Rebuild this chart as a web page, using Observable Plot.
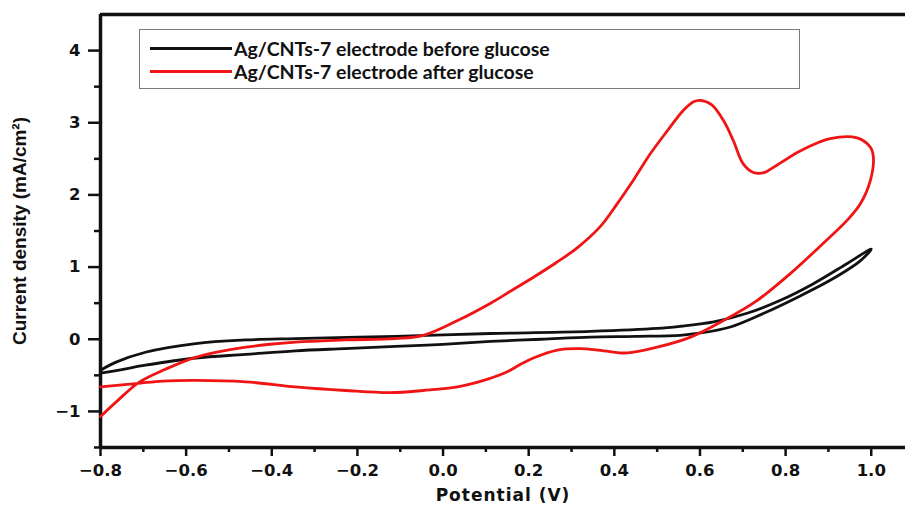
<!DOCTYPE html>
<html>
<head>
<meta charset="utf-8">
<script src="https://cdn.jsdelivr.net/npm/d3@7"></script>
<script src="https://cdn.jsdelivr.net/npm/@observablehq/plot@0.6"></script>
<style>
  html, body { margin: 0; padding: 0; background: #fff; }
  #wrap { position: relative; width: 905px; height: 511px; }
  #legend {
    position: absolute; left: 139px; top: 29px; width: 659px; height: 58px;
    border: 1.5px solid #7a7a7a; box-sizing: content-box;
    font-family: Lato, "Open Sans", sans-serif; font-weight: 700; font-size: 19.5px; color: #111;
  }
  .row { position: absolute; left: 10px; height: 22px; display: flex; align-items: center; }
  .sw { width: 82px; height: 0; border-top: 3px solid; margin-right: 2px; }
  #chart svg text {
    font-family: "DejaVu Sans", sans-serif; font-weight: 700; font-size: 16.5px;
  }
  #chart svg [aria-label="y-axis label"] text {
    font-family: "Liberation Sans Narrow", "Arial Narrow", "Liberation Sans", sans-serif; font-stretch: condensed;
    font-weight: 700; font-size: 19px; letter-spacing: 0;
  }
  #chart svg [aria-label="x-axis label"] text {
    font-family: "DejaVu Sans", sans-serif; font-weight: 700; font-size: 17px; letter-spacing: 1px;
  }
</style>
</head>
<body>
<div id="wrap">
  <div id="chart"></div>
  <div id="legend"></div>
</div>
<script>
// Series names
const seriesNames = ["Ag/CNTs-7 electrode before glucose", "Ag/CNTs-7 electrode after glucose"];
const seriesColors = ["#111111", "#f01414"];

// Black CV (before glucose): forward (lower) branch then reverse (upper) branch
const blackV = [-0.8, -0.75, -0.695, -0.578, -0.461, -0.345, -0.23, -0.111, 0.0, 0.111, 0.23, 0.344, 0.45, 0.554, 0.594, 0.671, 0.749, 0.827, 0.905, 0.975, 1.0,
                0.944, 0.865, 0.788, 0.71, 0.632, 0.554, 0.50, 0.344, 0.111, -0.111, -0.345, -0.461, -0.578, -0.695, -0.765, -0.8];
const blackI = [-0.47, -0.42, -0.36, -0.26, -0.21, -0.16, -0.13, -0.10, -0.07, -0.03, 0.0, 0.03, 0.04, 0.055, 0.08, 0.17, 0.36, 0.58, 0.82, 1.09, 1.25,
                1.05, 0.77, 0.54, 0.36, 0.24, 0.18, 0.15, 0.11, 0.08, 0.04, 0.01, -0.01, -0.06, -0.18, -0.32, -0.43];

// Red CV (after glucose)
const redV = [-0.8, -0.76, -0.711, -0.65, -0.578, -0.461, -0.345, -0.23, -0.111, -0.046, 0.034, 0.111, 0.164, 0.214, 0.264, 0.314, 0.367, 0.407, 0.444, 0.484, 0.524, 0.561, 0.585, 0.601,
              0.627, 0.655, 0.678, 0.701, 0.725, 0.75, 0.771, 0.834, 0.904, 0.967, 0.998, 1.005, 0.998, 0.975, 0.944, 0.888, 0.811, 0.734, 0.655, 0.578, 0.50, 0.43, 0.375, 0.32,
              0.267, 0.211, 0.18, 0.15, 0.095, 0.034, -0.046, -0.123, -0.228, -0.345, -0.461, -0.578, -0.655, -0.711, -0.8];
const redI = [-1.07, -0.85, -0.60, -0.42, -0.25, -0.11, -0.04, -0.01, 0.01, 0.055, 0.26, 0.50, 0.69, 0.87, 1.06, 1.27, 1.56, 1.88, 2.20, 2.57, 2.89, 3.17, 3.29, 3.31,
              3.25, 3.03, 2.75, 2.43, 2.31, 2.31, 2.38, 2.61, 2.78, 2.79, 2.66, 2.52, 2.20, 1.88, 1.65, 1.33, 0.91, 0.54, 0.26, 0.03, -0.11, -0.19, -0.16, -0.13,
              -0.15, -0.26, -0.35, -0.45, -0.57, -0.66, -0.71, -0.74, -0.71, -0.66, -0.59, -0.57, -0.58, -0.61, -0.66];

// Axis settings
const xDomain = [-0.8, 1.08];
const yDomain = [-1.5, 4.5];
const xMajor = [-0.8, -0.6, -0.4, -0.2, 0.0, 0.2, 0.4, 0.6, 0.8, 1.0];
const xMinor = [-0.7, -0.5, -0.3, -0.1, 0.1, 0.3, 0.5, 0.7, 0.9];
const yMajor = [-1, 0, 1, 2, 3, 4];
const yMinor = [-1.5, -0.5, 0.5, 1.5, 2.5, 3.5];

const black = blackV.map((v, i) => ({V: v, I: blackI[i]}));
const red = redV.map((v, i) => ({V: v, I: redI[i]}));

const chart = Plot.plot({
  width: 905,
  height: 511,
  marginLeft: 100,
  marginRight: 0,
  marginTop: 14,
  marginBottom: 64,
  style: {fontFamily: "'DejaVu Sans', sans-serif", fontWeight: "bold", fontSize: "16px", color: "#111"},
  x: {domain: xDomain},
  y: {domain: yDomain},
  marks: [
    Plot.axisX({ticks: xMajor, tickSize: 9, tickPadding: 8, tickFormat: d3.format(".1f"), strokeWidth: 2.5,
      label: "Potential (V)", labelAnchor: "center", labelOffset: 53, labelArrow: "none"}),
    Plot.axisX({ticks: xMinor, tickSize: 5, tickFormat: () => "", strokeWidth: 2.5, label: null}),
    Plot.axisY({ticks: yMajor, tickSize: 12, tickPadding: 8, tickFormat: d3.format("d"), strokeWidth: 2.5,
      label: "Current density (mA/cm²)", labelAnchor: "center", labelOffset: 88, labelArrow: "none"}),
    Plot.axisY({ticks: yMinor, tickSize: 6, tickFormat: () => "", strokeWidth: 2.5, label: null}),
    Plot.ruleX([xDomain[0]], {strokeWidth: 3.5, stroke: "#111"}),
    Plot.ruleY([yDomain[0]], {strokeWidth: 3.5, stroke: "#111"}),
    Plot.ruleY([yDomain[1]], {strokeWidth: 3.5, stroke: "#111"}),
    Plot.line(black, {x: "V", y: "I", stroke: seriesColors[0], strokeWidth: 2.8, curve: "catmull-rom"}),
    Plot.line(red, {x: "V", y: "I", stroke: seriesColors[1], strokeWidth: 2.8, curve: "catmull-rom"})
  ]
});
document.getElementById("chart").appendChild(chart);

const legend = document.getElementById("legend");
seriesNames.forEach((name, i) => {
  const row = document.createElement("div");
  row.className = "row";
  row.style.top = (i === 0 ? 7 : 30) + "px";
  const sw = document.createElement("div");
  sw.className = "sw";
  sw.style.borderColor = seriesColors[i];
  const t = document.createElement("span");
  t.textContent = name;
  row.appendChild(sw);
  row.appendChild(t);
  legend.appendChild(row);
});
</script>
</body>
</html>
